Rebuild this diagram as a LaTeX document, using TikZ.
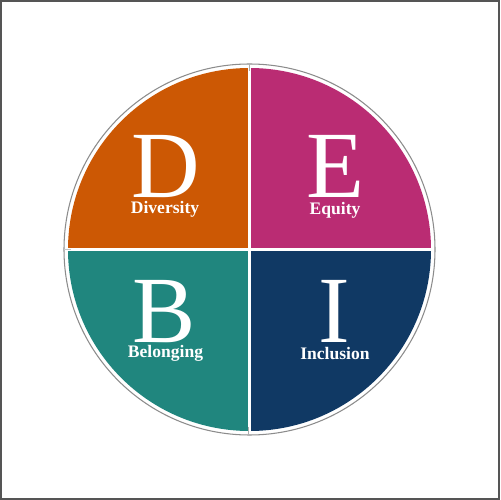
\documentclass[tikz,border=0pt]{standalone}
\usepackage{fontspec}
\usetikzlibrary{calc}
\setmainfont{Liberation Serif}
\definecolor{qorange}{RGB}{204,88,4}
\definecolor{qmagenta}{RGB}{186,44,115}
\definecolor{qteal}{RGB}{32,134,126}
\definecolor{qnavy}{RGB}{16,57,100}
\definecolor{ringgray}{RGB}{140,140,140}
\definecolor{framegray}{RGB}{85,85,85}
\tikzset{
  bigletter/.style={text=white,font=\fontsize{54}{54}\selectfont,anchor=base,inner sep=0pt,text depth=0pt,text height=36pt},
  qlabel/.style={text=white,font=\fontsize{10}{12}\selectfont\bfseries,anchor=base,inner sep=0pt},
}
\begin{document}
\begin{tikzpicture}[x=0.02cm,y=0.02cm]
\useasboundingbox (0,0) rectangle (500,500);
\fill[white] (0,0) rectangle (500,500);
\draw[framegray,line width=1.1pt] (0.6,0.6) rectangle (499.4,499.4);
\coordinate (c) at (249.5,250.5);
% outer ring
\draw[ringgray,line width=0.6pt] (c) circle (185.5);
% quadrants
\begin{scope}
  \clip (c) circle (181.5);
  \fill[qorange]  ($(c)+(-2,1.5)$) rectangle (0,500);
  \fill[qmagenta] ($(c)+(1.5,1.5)$) rectangle (500,500);
  \fill[qteal]    ($(c)+(-2,-2)$) rectangle (0,0);
  \fill[qnavy]    ($(c)+(1.5,-2)$) rectangle (500,0);
\end{scope}
% small gray ticks in the gaps at the rim
\draw[ringgray!70,line width=0.4pt] ($(c)+(0,185.5)$) -- ($(c)+(0,178)$);
\draw[ringgray!70,line width=0.4pt] ($(c)+(-1,-185.5)$) -- ($(c)+(-1,-178)$);
\draw[ringgray!50,line width=0.4pt] ($(c)+(-185.5,0)$) -- ($(c)+(-179,0)$);
% letters
\node[bigletter] (D) at (166,302) {D};
\node[bigletter] (E) at (335.5,302) {E};
\node[bigletter] (B) at (164.5,157) {B};
\node[bigletter] (I) at (334,157) {I};
% labels
\node[qlabel] (div) at (165,286) {Diversity};
\node[qlabel] (equ) at (335,285.5) {Equity};
\node[qlabel] (bel) at (165.5,142) {Belonging};
\node[qlabel] (inc) at (335,140) {Inclusion};
\end{tikzpicture}
\end{document}
